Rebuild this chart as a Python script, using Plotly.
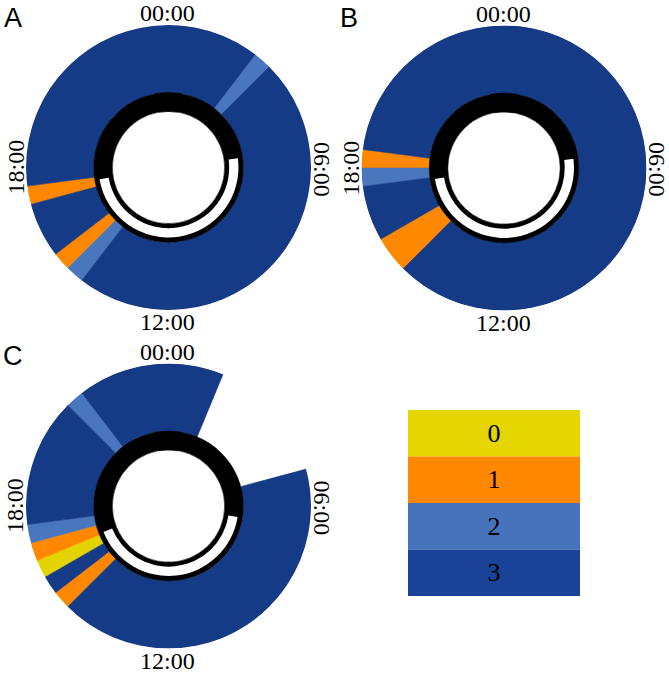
import plotly.graph_objects as go

W, H = 669, 673

# ---- data -------------------------------------------------------------
STAGES = [0, 1, 2, 3]
STAGE_LABELS = ["0", "1", "2", "3"]
STAGE_COLORS = ["#e3d300", "#ff8800", "#4a76be", "#163b86"]
LEGEND_COLORS = ["#e5d500", "#ff8800", "#4673bc", "#1a4397"]

HOUR_LABELS = ["00:00", "06:00", "12:00", "18:00"]

# segments: start hour, duration (hours), stage
A_start = [3.0, 14.5, 15.0, 15.5, 17.0, 17.5, 2.5]
A_dur = [11.5, 0.5, 0.5, 1.5, 0.5, 9.0, 0.5]
A_stage = [3, 2, 1, 3, 1, 3, 2]

B_start = [18.5, 15.0, 16.0, 17.5, 18.0]
B_dur = [20.5, 1.0, 1.5, 0.5, 0.5]
B_stage = [3, 1, 3, 2, 1]

C_start = [5.0, 15.0, 15.5, 16.0, 16.5, 17.0, 17.5, 21.0, 21.5]
C_dur = [10.0, 0.5, 0.5, 0.5, 0.5, 0.5, 3.5, 0.5, 4.0]
C_stage = [3, 1, 3, 0, 1, 2, 3, 2, 3]

# daylight (sunrise, sunset) in hours
A_day = [5.5, 17.35]
B_day = [5.5, 17.4]
C_day = [6.6, 16.55]

# ---- layout geometry -------------------------------------------------
PANELS = [
    dict(name="A", sub="polar", cx=168.5, cy=167.5, start=A_start, dur=A_dur, stage=A_stage, day=A_day),
    dict(name="B", sub="polar2", cx=504, cy=168, start=B_start, dur=B_dur, stage=B_stage, day=B_day),
    dict(name="C", sub="polar3", cx=168.5, cy=506, start=C_start, dur=C_dur, stage=C_stage, day=C_day),
]
R = 142.5
R_OUT = 10.0
R_BLACK_OUT = 5.25
R_BLACK_IN = 3.94
R_WHITE_IN = 4.26
R_WHITE_OUT = 4.91

SERIF = "Liberation Serif"
SANS = "Liberation Sans"

fig = go.Figure()
annotations = []

for p in PANELS:
    sub = p["sub"]
    # colored stage ring
    for s in STAGES:
        idx = [i for i, v in enumerate(p["stage"]) if v == s]
        if not idx:
            continue
        theta = [(p["start"][i] + p["dur"][i] / 2.0) * 15.0 for i in idx]
        width = [p["dur"][i] * 15.0 for i in idx]
        fig.add_trace(go.Barpolar(
            theta=theta, width=width,
            r=[R_OUT - R_BLACK_OUT] * len(idx), base=[R_BLACK_OUT] * len(idx),
            marker=dict(color=STAGE_COLORS[s], line=dict(color=STAGE_COLORS[s], width=0.6)),
            subplot=sub, showlegend=False, hoverinfo="skip",
        ))
    # black ring (night) - overlapping halves to avoid seams
    fig.add_trace(go.Barpolar(
        theta=[90, 270, 0], width=[182, 182, 20],
        r=[R_BLACK_OUT - R_BLACK_IN] * 3, base=[R_BLACK_IN] * 3,
        marker=dict(color="black", line=dict(color="black", width=0.5)),
        subplot=sub, showlegend=False, hoverinfo="skip",
    ))
    # white arc (daylight)
    d0, d1 = p["day"]
    fig.add_trace(go.Barpolar(
        theta=[(d0 + d1) / 2.0 * 15.0], width=[(d1 - d0) * 15.0],
        r=[R_WHITE_OUT - R_WHITE_IN], base=[R_WHITE_IN],
        marker=dict(color="white", line=dict(color="white", width=0)),
        subplot=sub, showlegend=False, hoverinfo="skip",
    ))

    cx, cy = p["cx"], p["cy"]
    dom = dict(x=[(cx - R) / W, (cx + R) / W], y=[1 - (cy + R) / H, 1 - (cy - R) / H])
    fig.update_layout(**{sub: dict(
        domain=dom, bgcolor="white", bargap=0, hole=0,
        radialaxis=dict(visible=False, range=[0, R_OUT]),
        angularaxis=dict(visible=False, rotation=90, direction="clockwise",
                         showgrid=False, showline=False, ticks=""),
    )})

    # hour labels
    off_v = 154.5
    off_h = 153.5
    pos = [(cx - 1, cy - off_v, 0), (cx + off_h, cy + 1.5, 90), (cx - 1, cy + off_v, 0), (cx - off_h, cy, -90)]
    for lab, (x, y, ang) in zip(HOUR_LABELS, pos):
        annotations.append(dict(
            text=lab, x=x / W, y=1 - y / H, xref="paper", yref="paper",
            xanchor="center", yanchor="middle", showarrow=False, textangle=ang,
            font=dict(family=SERIF, size=24, color="black"),
        ))
    # panel letter
    annotations.append(dict(
        text=p["name"], x=(cx - 155.5) / W, y=1 - (cy - 150) / H, xref="paper", yref="paper",
        xanchor="center", yanchor="middle", showarrow=False,
        font=dict(family=SANS, size=27, color="black"),
    ))

# ---- stage legend box as stacked bar ---------------------------------
fig.add_trace(go.Bar(
    x=[0, 0, 0, 0], y=[1, 1, 1, 1], base=[3 - s for s in STAGES],
    width=1.0, text=STAGE_LABELS, textposition="inside", insidetextanchor="middle",
    textfont=dict(family=SERIF, size=26, color="black"),
    marker=dict(color=LEGEND_COLORS, line=dict(width=0)),
    xaxis="x", yaxis="y", showlegend=False, hoverinfo="skip",
))
fig.update_layout(
    xaxis=dict(domain=[408 / W, 580 / W], range=[-0.5, 0.5], visible=False, fixedrange=True),
    yaxis=dict(domain=[1 - 596 / H, 1 - 410 / H], range=[0, 4], visible=False, fixedrange=True),
    barmode="overlay",
)

fig.update_layout(
    width=W, height=H, margin=dict(l=0, r=0, t=0, b=0),
    paper_bgcolor="white", plot_bgcolor="white",
    annotations=annotations, showlegend=False,
)

fig.write_html("out.html", config={"displayModeBar": False},
               post_script="document.body.style.margin='0px';")
